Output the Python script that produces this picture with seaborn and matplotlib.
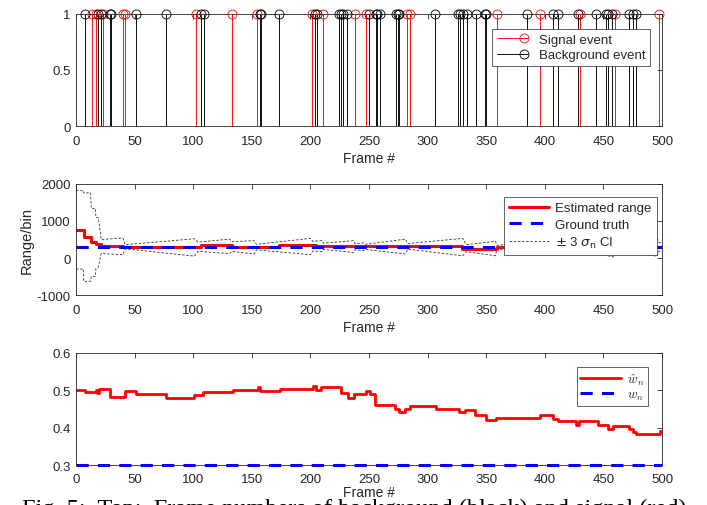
import numpy as np
import matplotlib
matplotlib.use("Agg")
import matplotlib.pyplot as plt
import seaborn as sns
from matplotlib.lines import Line2D
from matplotlib.legend_handler import HandlerLine2DCompound
from matplotlib.font_manager import FontProperties

# ---------------- data ----------------
signal_frames = [14, 17, 23, 40, 42, 102, 133, 154, 201, 211, 238, 247, 282, 285,
                 359, 396, 430, 460, 497]
background_frames = [8, 19, 21, 29, 30, 51, 77, 107, 109, 157, 158, 173, 204, 206,
                     224, 226, 228, 231, 250, 256, 257, 259, 273, 275, 276, 306, 326,
                     328, 330, 334, 341, 349, 350, 385, 407, 411, 428, 444, 452, 454,
                     457, 472, 475, 478]

est_frames = [0, 7, 13, 17, 21, 40, 107, 133, 173, 205, 329, 359, 500]
est_range = [750, 565, 430, 365, 325, 305, 345, 305, 345, 315, 255, 300, 300]

truth_frames = [0, 500]
truth_range = [300, 300]

ci_frames = [0, 6.5, 6.5, 12.5, 13, 16.5, 17, 19, 21.5, 40,
             42, 101, 104, 131, 133, 152, 154, 200, 202, 210,
             211, 237, 238, 246, 247, 281, 283, 330, 333, 358,
             359, 395, 396, 429, 430, 459, 460, 496, 497, 500]
ci_upper = [1820, 1820, 1760, 1760, 1340, 1340, 1090, 1090, 500, 540,
            360, 520, 430, 510, 440, 470, 370, 530, 450, 470,
            400, 470, 390, 410, 370, 510, 390, 530, 360, 450,
            340, 470, 350, 460, 420, 570, 430, 550, 420, 420]
ci_lower = [-300, -300, -630, -630, -500, -500, -280, -250, 120, 90,
            250, 50, 180, 120, 180, 110, 220, 90, 190, 170,
            230, 150, 220, 200, 230, 110, 240, 60, 170, 60,
            250, 130, 250, 140, 180, 30, 170, 50, 180, 180]

w_frames = [0, 8, 17, 18, 20, 29, 42, 51, 77, 101, 108, 134, 155, 157, 174, 202,
            205, 209, 226, 232, 237, 247, 251, 255, 272, 276, 281, 285, 307, 327,
            332, 340, 350, 358, 396, 407, 411, 427, 429, 445, 454, 458, 472, 475,
            478, 498, 500]
w_hat = [0.501, 0.496, 0.501, 0.492, 0.504, 0.483, 0.499, 0.490, 0.479, 0.487,
         0.495, 0.501, 0.508, 0.499, 0.504, 0.512, 0.501, 0.510, 0.492, 0.480,
         0.489, 0.498, 0.489, 0.460, 0.451, 0.442, 0.451, 0.459, 0.450, 0.441,
         0.447, 0.435, 0.420, 0.426, 0.433, 0.424, 0.417, 0.408, 0.417, 0.408,
         0.397, 0.404, 0.396, 0.388, 0.382, 0.391, 0.391]
w_true_frames = [0, 500]
w_true = [0.3, 0.3]

x_ticks = [0, 50, 100, 150, 200, 250, 300, 350, 400, 450, 500]

# ---------------- style ----------------
sns.set_theme(style="white")
plt.rcParams["font.family"] = ["Liberation Sans", "DejaVu Sans"]
plt.rcParams["axes.unicode_minus"] = False
plt.rcParams["font.size"] = 9.5
AX_COL = "#262626"

fig = plt.figure(figsize=(7.07, 5.06), dpi=100)
ax1 = fig.add_axes([0.1075, 0.749, 0.8289, 0.2214])
ax2 = fig.add_axes([0.1075, 0.415, 0.8289, 0.2194])
ax3 = fig.add_axes([0.1075, 0.079, 0.8289, 0.2214])


def style_axes(ax, xpad=6.5, labelpad=3):
    for s in ax.spines.values():
        s.set_color(AX_COL)
        s.set_linewidth(0.6)
        s.set_visible(True)
    ax.tick_params(direction="in", top=True, right=True, length=3.5, width=0.6,
                   colors=AX_COL, labelsize=9.5, pad=4)
    ax.tick_params(axis="x", pad=xpad)
    ax.set_xlim(0, 500)
    ax.set_xticks(x_ticks)
    ax.set_xlabel("Frame #", fontsize=10, color=AX_COL, labelpad=labelpad)
    ax.grid(False)


# ---------------- top: stem plot ----------------
for frames, col in ((signal_frames, "red"), (background_frames, "black")):
    ml, sl, bl = ax1.stem(frames, np.ones(len(frames)), basefmt=" ")
    sl.set_color(col)
    sl.set_linewidth(0.65)
    ml.set_markerfacecolor("none")
    ml.set_markeredgecolor(col)
    ml.set_markersize(6.5)
    ml.set_markeredgewidth(0.6)
    ml.set_clip_on(False)
    ml.set_zorder(5)
ax1.set_ylim(0, 1)
ax1.set_yticks([0, 0.5, 1])
ax1.set_yticklabels(["0", "0.5", "1"])
style_axes(ax1)


class EndMarkerHandler(HandlerLine2DCompound):
    def get_xdata(self, legend, xdescent, ydescent, width, height, fontsize):
        xdata = np.array([-xdescent, -xdescent + width])
        return xdata, np.array([-xdescent + width * 0.88])


h_sig = Line2D([], [], color="red", lw=0.65, marker="o", mfc="none", mec="red",
               ms=6.5, mew=0.6)
h_bg = Line2D([], [], color="black", lw=0.65, marker="o", mfc="none", mec="black",
              ms=6.5, mew=0.6)
leg1 = ax1.legend([h_sig, h_bg], ["Signal event", "Background event"],
                  loc="upper right", bbox_to_anchor=(0.9795, 0.866),
                  handler_map={Line2D: EndMarkerHandler()}, fontsize=9.5,
                  handlelength=2.4, labelspacing=0.25, borderpad=0.35,
                  handletextpad=0.8, borderaxespad=0, fancybox=False,
                  framealpha=1, edgecolor=AX_COL)
leg1.get_frame().set_linewidth(0.5)

# ---------------- middle: range ----------------
sns.lineplot(x=ci_frames, y=ci_upper, ax=ax2, estimator=None, sort=False,
             color="#333333", lw=0.6, linestyle=(0, (3, 2)))
sns.lineplot(x=ci_frames, y=ci_lower, ax=ax2, estimator=None, sort=False,
             color="#333333", lw=0.6, linestyle=(0, (3, 2)))
sns.lineplot(x=est_frames, y=est_range, ax=ax2, estimator=None, sort=False,
             color="red", lw=2.2, drawstyle="steps-post")
sns.lineplot(x=truth_frames, y=truth_range, ax=ax2, estimator=None, sort=False,
             color="blue", lw=2.2, linestyle=(0, (4, 3)))
ax2.set_ylim(-1000, 2000)
ax2.set_yticks([-1000, 0, 1000, 2000])
ax2.set_ylabel("Range/bin", fontsize=10.5, color=AX_COL, labelpad=2)
style_axes(ax2)
h_est = Line2D([], [], color="red", lw=2.2)
h_tru = Line2D([], [], color="blue", lw=2.2, linestyle=(0, (4, 3)))
h_ci = Line2D([], [], color="#333333", lw=0.6, linestyle=(0, (3, 2)))
leg2 = ax2.legend([h_est, h_tru, h_ci],
                  ["Estimated range", "Ground truth", r"$\pm$ 3 $\sigma_\mathrm{n}$ CI"],
                  loc="upper right", bbox_to_anchor=(0.9915, 0.883), fontsize=9.5,
                  handlelength=3.0, labelspacing=0.3, borderpad=0.4,
                  handletextpad=0.5, borderaxespad=0, fancybox=False,
                  framealpha=1, edgecolor=AX_COL)
leg2.get_frame().set_linewidth(0.5)

# ---------------- bottom: weight ----------------
sns.lineplot(x=w_frames, y=w_hat, ax=ax3, estimator=None, sort=False,
             color="red", lw=2.0, drawstyle="steps-post")
sns.lineplot(x=w_true_frames, y=w_true, ax=ax3, estimator=None, sort=False,
             color="blue", lw=2.2, linestyle=(0, (4, 3)), clip_on=False)
ax3.set_ylim(0.3, 0.6)
ax3.set_yticks([0.3, 0.4, 0.5, 0.6])
ax3.set_yticklabels(["0.3", "0.4", "0.5", "0.6"])
style_axes(ax3, xpad=5.5, labelpad=0.5)
ax3.xaxis.label.set_bbox(dict(facecolor="white", edgecolor="none", pad=0))
h_wh = Line2D([], [], color="red", lw=2.0)
h_w = Line2D([], [], color="blue", lw=2.2, linestyle=(0, (4, 3)))
leg3 = ax3.legend([h_wh, h_w], [r"$\hat{w}_n$", r"$w_n$"],
                  loc="upper right", bbox_to_anchor=(0.976, 0.875),
                  prop=FontProperties(size=9.5, math_fontfamily="cm"),
                  handlelength=3.1, labelspacing=0.1, borderpad=0.3,
                  handletextpad=0.4, borderaxespad=0, fancybox=False,
                  framealpha=1, edgecolor=AX_COL)
leg3.get_frame().set_linewidth(0.5)

# ---------------- cropped caption underneath ----------------
fig.text(0.031, -0.017,
         "Fig. 5:  Top:  Frame numbers of background (black) and signal (red)",
         family=["Liberation Serif", "DejaVu Serif"], fontsize=17.5,
         color="black", va="baseline", ha="left", zorder=-1)

fig.savefig("out.png", dpi=100)
